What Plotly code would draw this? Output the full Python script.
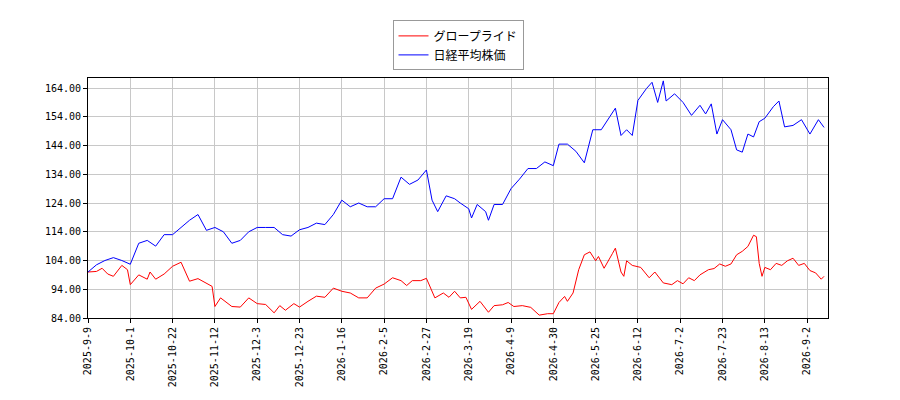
import plotly.graph_objects as go

# trading-day index positions, ticks every 15 trading days
tick_idx = list(range(0, 256, 15))
tick_labels = ["2025-9-9", "2025-10-1", "2025-10-22", "2025-11-12", "2025-12-3", "2025-12-23",
               "2026-1-16", "2026-2-5", "2026-2-27", "2026-3-19", "2026-4-9", "2026-4-30",
               "2026-5-25", "2026-6-12", "2026-7-2", "2026-7-23", "2026-8-13", "2026-9-2"]

nikkei_x = [0, 3, 6, 9, 12, 15, 18, 21, 24, 27, 30, 33, 36, 39, 42, 45, 48, 51, 54, 57, 60, 63, 66,
            69, 72, 75, 78, 81, 84, 87, 90, 93, 96, 99, 102, 105, 108, 111, 114, 117, 120, 122, 124,
            127, 130, 132, 135, 136, 138, 141, 142, 144, 147, 150, 153, 156, 159, 162, 165, 167, 170,
            173, 176, 179, 182, 185, 187, 189, 191, 193, 195, 198, 200, 202, 204, 205, 208, 211, 214,
            217, 219, 221, 223, 225, 228, 230, 232, 234, 236, 238, 240, 243, 245, 247, 250, 253, 256,
            259, 261]
nikkei = [100, 102.5, 104, 105, 104, 102.7, 110, 111, 109, 113, 113, 115.5, 118, 120, 114.5, 115.5,
          114, 110, 111, 114, 115.5, 115.5, 115.5, 113, 112.5, 114.7, 115.5, 117, 116.5, 120, 125,
          122.7, 124, 122.7, 122.7, 125.5, 125.5, 133, 130.5, 132, 135.5, 125, 121, 126.5, 125.5,
          124, 122, 118.8, 123.5, 121, 118, 123.5, 123.5, 129, 132.3, 136, 136, 138.3, 137, 144.5,
          144.5, 142, 138, 149.5, 149.5, 154, 157, 147.5, 149.5, 147.5, 159.7, 163.8, 166, 159,
          166.5, 159.5, 162, 159, 154.5, 158, 155, 158.5, 148, 153, 149.5, 142.5, 141.7, 148, 147,
          152.3, 153.5, 157.5, 159.5, 150.5, 151, 153, 148, 153, 150.3]

glo_x = [0, 3, 5, 7, 9, 12, 14, 15, 18, 21, 22, 24, 27, 30, 33, 36, 39, 42, 44, 45, 47, 51, 54, 57,
         60, 63, 66, 68, 70, 73, 75, 78, 81, 84, 87, 90, 93, 96, 99, 102, 105, 108, 111, 113, 115,
         118, 120, 123, 126, 128, 130, 132, 134, 136, 139, 142, 144, 147, 149, 151, 154, 157, 160,
         163, 165, 167, 169, 170, 172, 174, 176, 178, 180, 181, 183, 186, 187, 189, 190, 191, 193,
         196, 199, 201, 204, 207, 209, 211, 213, 215, 217, 220, 222, 224, 226, 228, 230, 232, 234,
         236, 237, 238, 239, 240, 242, 244, 246, 248, 250, 252, 254, 256, 258, 260, 261]
glo = [100, 100.2, 101.3, 99.3, 98.5, 102.3, 100.8, 95.6, 99, 97.5, 100, 97.5, 99.3, 102, 103.4,
       96.8, 97.7, 95.9, 95, 88, 91, 88, 87.8, 91, 89, 88.7, 85.8, 88.3, 86.7, 89, 87.8, 89.8, 91.6,
       91.2, 94.4, 93.3, 92.7, 91, 91, 94.4, 95.8, 98, 97, 95.3, 97, 97, 97.8, 91, 92.7, 91.2, 93.3,
       91, 91.2, 87, 89.8, 86, 88.3, 88.6, 89.4, 88, 88.3, 87.7, 85, 85.5, 85.5, 89.4, 91.5, 89.8,
       92.7, 100.8, 106, 107, 103.9, 105.4, 101.3, 106.5, 108.3, 100, 98.5, 103.9, 102.3, 101.6, 98,
       100, 96.2, 95.6, 97, 95.9, 98, 97, 99, 100.8, 101.2, 102.8, 102, 102.8, 106, 107.2, 108.9,
       112.8, 112.3, 103, 98.5, 101.6, 100.8, 103, 102.3, 103.9, 104.8, 102.3, 103, 100.5, 99.7,
       97.5, 98.5]

fig = go.Figure()
fig.add_trace(go.Scatter(x=glo_x, y=glo, mode="lines", name="グロープライド",
                         line=dict(color="red", width=1)))
fig.add_trace(go.Scatter(x=nikkei_x, y=nikkei, mode="lines", name="日経平均株価",
                         line=dict(color="blue", width=1)))

axis = dict(showgrid=True, gridcolor="#c8c8c8", showline=True, linecolor="black", mirror=True,
            ticks="outside", ticklen=4, tickcolor="black", zeroline=False, automargin=False)
fig.update_xaxes(**axis, range=[0, 262.4], tickvals=tick_idx, ticktext=tick_labels, tickangle=-90)
fig.update_yaxes(**axis, range=[84, 167.5], dtick=10, tick0=84, tickformat=".2f")
fig.update_layout(
    width=900, height=400, plot_bgcolor="white", paper_bgcolor="white",
    margin=dict(l=80, r=80, t=70, b=90, autoexpand=False),
    font=dict(family="DejaVu Sans Mono, Noto Sans CJK JP", size=10, color="black"),
    legend=dict(x=0.5, y=1.24, xanchor="center", yanchor="top", bordercolor="#999",
                borderwidth=1, font=dict(family="Noto Sans CJK JP", size=12)),
    showlegend=True,
)
fig.write_html("out.html")
